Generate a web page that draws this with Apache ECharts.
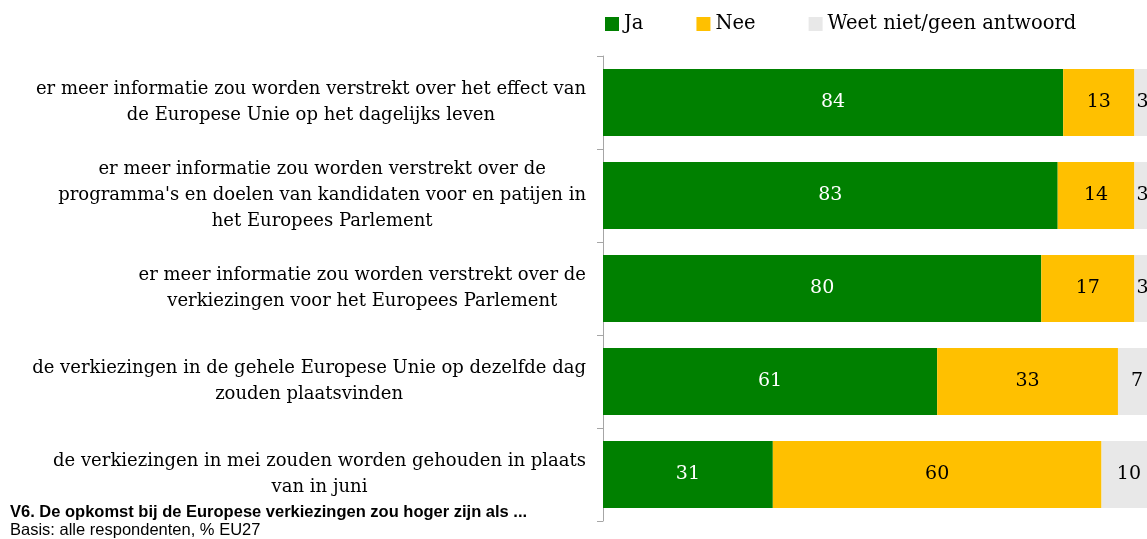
<!DOCTYPE html>
<html>
<head>
<meta charset="utf-8">
<title>V6</title>
<script src="https://cdn.jsdelivr.net/npm/echarts@6/dist/echarts.min.js"></script>
<style>
    html, body { margin: 0; padding: 0; background: #fff; }
    #chart { width: 1147px; height: 539px; }
</style>
</head>
<body>
<div id="chart"></div>
<script>
// categories, top to bottom
var categories = [
    'er meer informatie zou worden verstrekt over het effect van\nde Europese Unie op het dagelijks leven',
    "er meer informatie zou worden verstrekt over de\nprogramma's en doelen van kandidaten voor en patijen in\nhet Europees Parlement",
    'er meer informatie zou worden verstrekt over de\nverkiezingen voor het Europees Parlement',
    'de verkiezingen in de gehele Europese Unie op dezelfde dag\nzouden plaatsvinden',
    'de verkiezingen in mei zouden worden gehouden in plaats\nvan in juni'
]
var jaValues = [84, 83, 80, 61, 31]
var neeValues = [13, 14, 17, 33, 60]
var weetValues = [3, 3, 3, 7, 10]
var seriesNames = ['Ja', 'Nee', 'Weet niet/geen antwoord']

var serif = 'DejaVu Serif'
var chart = echarts.init(document.getElementById('chart'))

function barSeries(name, data, color, labelColor) {
    return {
        name: name,
        type: 'bar',
        stack: 'total',
        barWidth: 67,
        clip: false,
        data: data,
        itemStyle: { color: color },
        label: {
            show: true,
            position: 'inside',
            color: labelColor,
            fontFamily: serif,
            fontSize: 19
        },
        emphasis: { disabled: true }
    }
}

chart.setOption({
    animation: false,
    title: {
        left: 10,
        top: 504,
        text: 'V6. De opkomst bij de Europese verkiezingen zou hoger zijn als ...',
        subtext: 'Basis: alle respondenten, % EU27',
        itemGap: 1,
        padding: 0,
        textStyle: {
            fontFamily: 'Liberation Sans',
            fontSize: 16.5,
            fontWeight: 'bold',
            color: '#000'
        },
        subtextStyle: {
            fontFamily: 'Liberation Sans',
            fontSize: 16.5,
            color: '#000'
        }
    },
    legend: {
        left: 605,
        top: 14,
        padding: 0,
        itemWidth: 14,
        itemHeight: 14,
        itemGap: 53,
        icon: 'rect',
        data: seriesNames,
        textStyle: {
            fontFamily: serif,
            fontSize: 19.5,
            color: '#000'
        }
    },
    grid: {
        left: 603,
        top: 56,
        width: 544,
        height: 465
    },
    xAxis: {
        type: 'value',
        min: 0,
        max: 99.3,
        show: false
    },
    yAxis: {
        type: 'category',
        inverse: true,
        data: categories,
        axisLine: { show: true, lineStyle: { color: '#a6a6a6' } },
        axisTick: { show: true, length: 6, lineStyle: { color: '#a6a6a6' } },
        axisLabel: {
            margin: 17,
            formatter: function (v) {
                return v.split('\n').map(function (l) { return '{c|' + l + '}' }).join('\n')
            },
            rich: {
                c: {
                    align: 'center',
                    fontFamily: serif,
                    fontSize: 18,
                    lineHeight: 26,
                    color: '#000'
                }
            }
        }
    },
    series: [
        barSeries(seriesNames[0], jaValues, '#008000', '#fff'),
        barSeries(seriesNames[1], neeValues, '#ffc000', '#000'),
        barSeries(seriesNames[2], weetValues, '#e8e8e8', '#000')
    ]
})
</script>
</body>
</html>
